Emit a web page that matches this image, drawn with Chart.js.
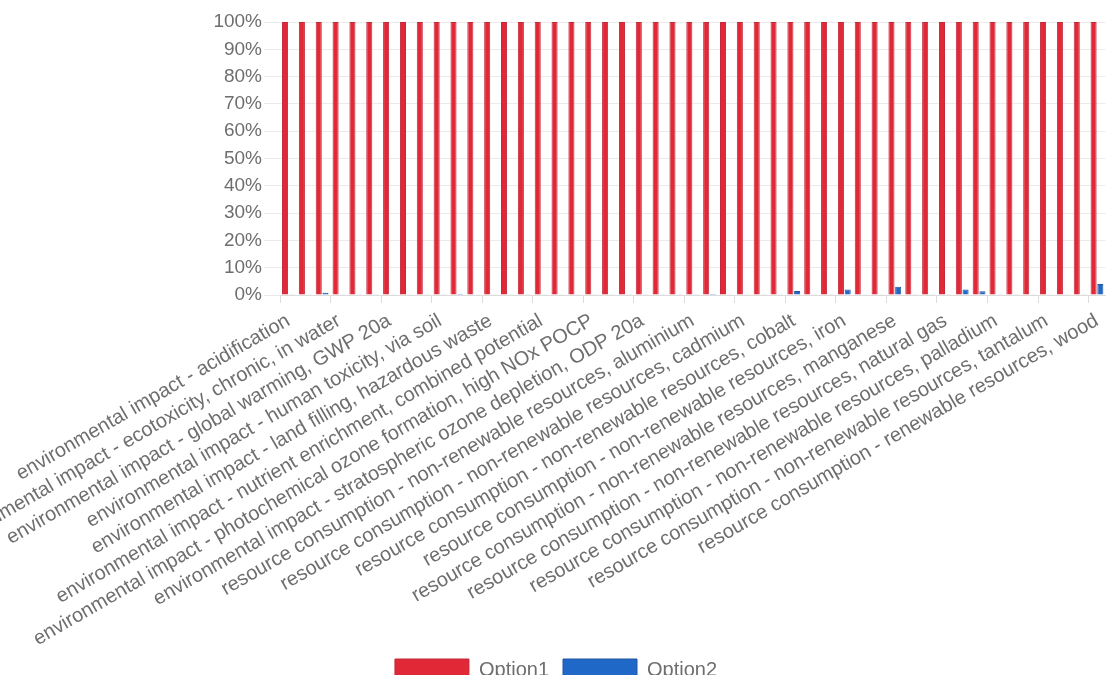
<!DOCTYPE html>
<html>
<head>
<meta charset="utf-8">
<script src="https://cdn.jsdelivr.net/npm/chart.js@4/dist/chart.umd.min.js"></script>
<style>
  html, body { margin: 0; padding: 0; background: #fff; overflow: hidden; }
  #wrap { width: 1115px; height: 691px; position: relative; }
</style>
</head>
<body>
<div id="wrap"><canvas id="chartImpact"></canvas></div>
<script>
const categories = [
  'environmental impact - acidification',
  'environmental impact - ecotoxicity, acute, in water',
  'environmental impact - ecotoxicity, chronic, in soil',
  'environmental impact - ecotoxicity, chronic, in water',
  'environmental impact - eutrophication',
  'environmental impact - global warming, GWP 100a',
  'environmental impact - global warming, GWP 20a',
  'environmental impact - global warming, GWP 500a',
  'environmental impact - human toxicity, via air',
  'environmental impact - human toxicity, via soil',
  'environmental impact - human toxicity, via surface water',
  'environmental impact - land filling, bulk waste',
  'environmental impact - land filling, hazardous waste',
  'environmental impact - land filling, radioactive waste',
  'environmental impact - land filling, slags/ashes',
  'environmental impact - nutrient enrichment, combined potential',
  'environmental impact - nutrient enrichment, due to N',
  'environmental impact - nutrient enrichment, due to P',
  'environmental impact - photochemical ozone formation, high NOx POCP',
  'environmental impact - photochemical ozone formation, low NOx POCP',
  'environmental impact - stratospheric ozone depletion, ODP 100a',
  'environmental impact - stratospheric ozone depletion, ODP 20a',
  'environmental impact - stratospheric ozone depletion, ODP 40a',
  'environmental impact - stratospheric ozone depletion, ODP total',
  'resource consumption - non-renewable resources, aluminium',
  'resource consumption - non-renewable resources, antimony',
  'resource consumption - non-renewable resources, brown coal',
  'resource consumption - non-renewable resources, cadmium',
  'resource consumption - non-renewable resources, cerium',
  'resource consumption - non-renewable resources, coal',
  'resource consumption - non-renewable resources, cobalt',
  'resource consumption - non-renewable resources, copper',
  'resource consumption - non-renewable resources, crude oil',
  'resource consumption - non-renewable resources, iron',
  'resource consumption - non-renewable resources, lanthanum',
  'resource consumption - non-renewable resources, lead',
  'resource consumption - non-renewable resources, manganese',
  'resource consumption - non-renewable resources, mercury',
  'resource consumption - non-renewable resources, molybdenum',
  'resource consumption - non-renewable resources, natural gas',
  'resource consumption - non-renewable resources, nickel',
  'resource consumption - non-renewable resources, oil',
  'resource consumption - non-renewable resources, palladium',
  'resource consumption - non-renewable resources, platinum',
  'resource consumption - non-renewable resources, silver',
  'resource consumption - non-renewable resources, tantalum',
  'resource consumption - non-renewable resources, tin',
  'resource consumption - non-renewable resources, zinc',
  'resource consumption - renewable resources, wood'
];

const option1Values = [
  100, 100, 100, 100, 100, 100, 100, 100, 100, 100,
  100, 100, 100, 100, 100, 100, 100, 100, 100, 100,
  100, 100, 100, 100, 100, 100, 100, 100, 100, 100,
  100, 100, 100, 100, 100, 100, 100, 100, 100, 100,
  100, 100, 100, 100, 100, 100, 100, 100, 100
];

const option2Values = [
  0.1, 0.3, 0.8, 0.3, 0.1, 0.1, 0.1, 0.1, 0.1, 0.1,
  0.4, 0.3, 0.1, 0.3, 0.1, 0.1, 0.1, 0.1, 0.3, 0.1,
  0.1, 0.1, 0.1, 0.1, 0.1, 0.4, 0.1, 0.3, 0.1, 0.1,
  1.5, 0.1, 0.1, 2.0, 0.1, 0.3, 3.0, 0.1, 0.3, 0.1,
  2.0, 1.4, 0.1, 0.1, 0.1, 0.3, 0.1, 0.3, 4.0
];

const yTicks = [0, 10, 20, 30, 40, 50, 60, 70, 80, 90, 100];

// show every third category label, like the original
const labelStep = 3;

Chart.defaults.font.family = "'Liberation Sans', Arial, sans-serif";
Chart.defaults.font.size = 19;
Chart.defaults.color = '#6e6e6e';

const ctx = document.getElementById('chartImpact').getContext('2d');
new Chart(ctx, {
  type: 'bar',
  data: {
    labels: categories,
    datasets: [{
      label: 'Option1',
      data: option1Values,
      backgroundColor: 'rgb(224, 40, 54)',
      borderColor: 'rgb(196, 42, 58)',
      borderWidth: 1
    }, {
      label: 'Option2',
      data: option2Values,
      backgroundColor: 'rgb(32, 104, 200)',
      borderColor: 'rgb(34, 84, 160)',
      borderWidth: 1
    }]
  },
  options: {
    responsive: true,
    maintainAspectRatio: false,
    animation: false,
    layout: { padding: { top: 22, right: 3 } },
    plugins: {
      tooltip: { enabled: false },
      legend: {
        position: 'bottom',
        labels: {
          boxWidth: 74,
          boxHeight: 22,
          padding: 14,
          color: '#6e6e6e',
          font: { size: 20 }
        }
      }
    },
    scales: {
      x: {
        grid: {
          drawOnChartArea: false,
          tickLength: 8,
          color: function(c) { return c.index % labelStep === 0 ? '#dcdcdc' : 'rgba(0,0,0,0)'; }
        },
        border: { color: '#dcdcdc' },
        ticks: {
          autoSkip: false,
          minRotation: 30,
          maxRotation: 30,
          padding: 6,
          font: { size: 20 },
          callback: function(value, index) {
            return index % labelStep === 0 ? categories[index] : '';
          }
        },
        afterFit: function(scale) { scale.height = 350; }
      },
      y: {
        min: 0,
        max: 100,
        afterBuildTicks: function(axis) {
          axis.ticks = yTicks.map(function(v) { return { value: v }; });
        },
        afterFit: function(scale) { scale.width = 280; },
        grid: { color: '#ebebeb', tickLength: 16 },
        border: { display: false },
        ticks: {
          padding: 2,
          callback: function(value) { return value + '%'; }
        }
      }
    }
  }
});
</script>
</body>
</html>
